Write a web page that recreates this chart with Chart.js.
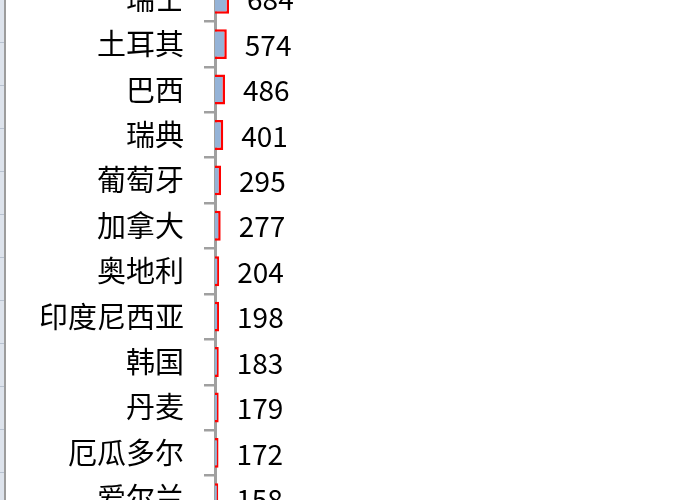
<!DOCTYPE html>
<html>
<head>
<meta charset="utf-8">
<script src="https://cdn.jsdelivr.net/npm/chart.js@4.4.1/dist/chart.umd.min.js"></script>
<style>
  html, body { margin: 0; padding: 0; background: #fff; overflow: hidden; }
  #wrap { position: relative; width: 700px; height: 500px; overflow: hidden; }
  #box { position: absolute; left: 0; top: -24px; width: 700px; height: 545px; }
  #edge { position: absolute; left: 0; top: 0; width: 4px; height: 500px; background: #dde3ec; border-right: 2px solid #9c9c9c; z-index: 2;
          background-image: repeating-linear-gradient(to bottom, transparent 0px, transparent 42px, #b8c2d0 42px, #b8c2d0 43px); }
</style>
</head>
<body>
<div id="wrap">
  <div id="edge"></div>
  <div id="box"><canvas id="c"></canvas></div>
</div>
<script>
const categories = ["瑞士", "土耳其", "巴西", "瑞典", "葡萄牙", "加拿大", "奥地利", "印度尼西亚", "韩国", "丹麦", "厄瓜多尔", "爱尔兰"];
const values = [684, 574, 486, 401, 295, 277, 204, 198, 183, 179, 172, 158];

const valueLabels = {
  id: 'valueLabels',
  afterDatasetsDraw(chart) {
    const ctx = chart.ctx;
    const meta = chart.getDatasetMeta(0);
    ctx.save();
    ctx.font = '28px "Noto Sans CJK SC", "Noto Sans", sans-serif';
    ctx.fillStyle = '#000';
    ctx.textAlign = 'left';
    ctx.textBaseline = 'middle';
    meta.data.forEach((bar, i) => {
      ctx.fillText(String(values[i]), bar.x + 18, bar.y + 1);
    });
    ctx.restore();
  }
};

new Chart(document.getElementById('c'), {
  type: 'bar',
  data: {
    labels: categories,
    datasets: [{
      data: values,
      backgroundColor: '#95b3d7',
      borderColor: '#ff0000',
      borderWidth: 2.5,
      borderSkipped: 'start',
      categoryPercentage: 1,
      barPercentage: 0.66
    }]
  },
  options: {
    indexAxis: 'y',
    responsive: true,
    maintainAspectRatio: false,
    animation: false,
    layout: { padding: 0 },
    plugins: { legend: { display: false }, tooltip: { enabled: false } },
    scales: {
      x: { display: false, min: 0, max: 23600 },
      y: {
        z: 1,
        afterFit(scale) { scale.width = 215; scale.paddingTop = 0; scale.paddingBottom = 0; },
        border: { display: true, color: '#a0a0a0', width: 3 },
        grid: { drawOnChartArea: false, drawTicks: true, tickLength: 11, color: '#a0a0a0', lineWidth: 2.5 },
        ticks: {
          padding: 20,
          color: '#000',
          font: { family: '"Noto Sans CJK SC", sans-serif', size: 29 }
        }
      }
    }
  },
  plugins: [valueLabels]
});
</script>
</body>
</html>
